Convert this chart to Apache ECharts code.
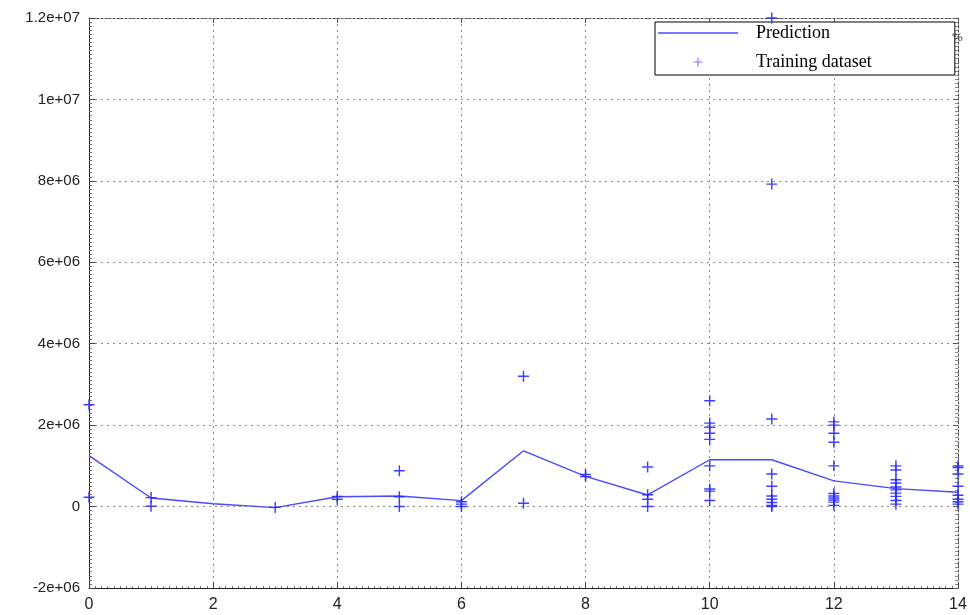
<!DOCTYPE html>
<html>
<head>
<meta charset="utf-8">
<title>Prediction vs training dataset</title>
<script src="https://cdn.jsdelivr.net/npm/echarts@6/dist/echarts.min.js"></script>
<style>
  html, body { margin: 0; padding: 0; background: #ffffff; }
  #chart { width: 970px; height: 615px; }
</style>
</head>
<body>
<div id="chart"></div>
<script>
// Model prediction, one value per integer x
const predictionX = [0, 1, 2, 3, 4, 5, 6, 7, 8, 9, 10, 11, 12, 13, 14];
const predictionY = [1.25e6, 2.1e5, 7e4, -2.5e4, 2.4e5, 2.6e5, 1.45e5, 1.37e6, 7.4e5, 2.85e5, 1.15e6, 1.15e6, 6.3e5, 4.4e5, 3.5e5];

// Training samples, grouped by x
const trainingX = [0, 1, 2, 3, 4, 5, 6, 7, 8, 9, 10, 11, 12, 13, 14];
const trainingY = [
  [2.5e6, 2.3e5],
  [2.2e5, 1e4],
  [],
  [-2e4],
  [2.5e5, 1.8e5],
  [8.8e5, 2.4e5, 0],
  [1.2e5, 6e4, 0],
  [3.2e6, 8e4],
  [7.9e5, 7.4e5],
  [9.7e5, 2.9e5, 1.8e5, 0],
  [2.6e6, 2.05e6, 1.95e6, 1.8e6, 1.65e6, 1.0e6, 4.3e5, 3.8e5, 1.5e5],
  [1.2e7, 7.92e6, 2.15e6, 8e5, 5e5, 2.6e5, 1.8e5, 1e5, 3e4, 0],
  [2.08e6, 2.0e6, 1.8e6, 1.58e6, 1.0e6, 3.2e5, 2.6e5, 2.1e5, 1.6e5, 1.1e5, 3e4],
  [1.0e6, 9.0e5, 6.6e5, 5.8e5, 4.8e5, 4.1e5, 3.3e5, 2.5e5, 1.5e5, 6e4],
  [1.0e6, 9.6e5, 8e5, 5e5, 2.8e5, 1.8e5, 1.2e5, 6e4]
];

// Axis tick labels
const xTickLabels = ['0', '2', '4', '6', '8', '10', '12', '14'];
const yTickLabels = ['-2e+06', '0', '2e+06', '4e+06', '6e+06', '8e+06', '1e+07', '1.2e+07'];

const predictionData = predictionX.map((x, i) => [x, predictionY[i]]);
const trainingData = [];
trainingX.forEach((x, i) => trainingY[i].forEach(y => trainingData.push([x, y])));

const plusPath = 'path://M0,4.35H10V5.65H0Z M4.35,0H5.65V10H4.35Z';
const lineIcon = 'path://M0,0H80V1.4H0Z';
const gridDots = { color: '#8a8a8a', width: 1, type: [2, 4] };

const chart = echarts.init(document.getElementById('chart'), null, { renderer: 'canvas' });

chart.setOption({
  backgroundColor: '#ffffff',
  animation: false,
  grid: { left: 89, right: 12, top: 18, bottom: 27, containLabel: false },
  legend: {
    orient: 'vertical',
    left: 655,
    top: 22,
    itemWidth: 80,
    itemHeight: 9,
    itemGap: 11,
    padding: [2, 83, 4, 3],
    backgroundColor: '#ffffff',
    borderColor: '#000000',
    borderWidth: 1,
    borderRadius: 0,
    textStyle: { fontFamily: 'Liberation Serif', fontSize: 18, color: '#000000', padding: [0, 0, 0, 13] },
    data: [
      { name: 'Prediction', icon: lineIcon, itemStyle: { color: '#4a4aff' } },
      { name: 'Training dataset', icon: plusPath, itemStyle: { color: '#7070ff' } }
    ]
  },
  xAxis: [
    {
      type: 'value',
      min: 0,
      max: 14,
      interval: 2,
      position: 'bottom',
      axisLine: { show: true, onZero: false, lineStyle: { color: '#222', width: 1 } },
      axisTick: { show: true, inside: true, length: 6, lineStyle: { color: '#444' } },
      minorTick: { show: true, splitNumber: 20, length: 2, lineStyle: { color: '#777' } },
      axisLabel: {
        margin: 9,
        fontFamily: 'Liberation Sans',
        fontSize: 16,
        color: '#222',
        formatter: (v, i) => xTickLabels[i] !== undefined ? xTickLabels[i] : String(v)
      },
      splitLine: { show: true, lineStyle: gridDots }
    },
    {
      type: 'value',
      min: 0,
      max: 14,
      interval: 2,
      position: 'top',
      axisLine: { show: true, onZero: false, lineStyle: { color: '#555', width: 1, type: [2, 2] } },
      axisTick: { show: true, inside: true, length: 5, lineStyle: { color: '#555' } },
      axisLabel: { show: false },
      splitLine: { show: false }
    }
  ],
  yAxis: [
    {
      type: 'value',
      min: -2e6,
      max: 1.2e7,
      interval: 2e6,
      position: 'left',
      axisLine: { show: true, onZero: false, lineStyle: { color: '#222', width: 1 } },
      axisTick: { show: true, inside: true, length: 6, lineStyle: { color: '#444' } },
      minorTick: { show: true, splitNumber: 20, length: 3, lineStyle: { color: '#777' } },
      axisLabel: {
        margin: 9,
        fontFamily: 'Liberation Sans',
        fontSize: 15,
        color: '#222',
        formatter: (v, i) => yTickLabels[i] !== undefined ? yTickLabels[i] : String(v)
      },
      splitLine: { show: true, lineStyle: gridDots }
    },
    {
      type: 'value',
      min: -2e6,
      max: 1.2e7,
      interval: 2e6,
      position: 'right',
      axisLine: { show: true, onZero: false, lineStyle: { color: '#555', width: 1, type: [2, 2] } },
      axisTick: { show: true, inside: true, length: 5, lineStyle: { color: '#555' } },
      minorTick: { show: true, splitNumber: 20, length: 3, lineStyle: { color: '#888' } },
      axisLabel: { show: false },
      splitLine: { show: false }
    }
  ],
  graphic: [
    {
      type: 'text',
      left: 952,
      top: 31,
      style: { text: '%', fontFamily: 'Liberation Serif', fontSize: 13, fill: '#444' },
      z: 100
    }
  ],
  series: [
    {
      name: 'Prediction',
      type: 'line',
      xAxisIndex: 0,
      yAxisIndex: 0,
      data: predictionData,
      symbol: 'none',
      lineStyle: { color: '#4a4aff', width: 1.4 },
      itemStyle: { color: '#4a4aff' },
      z: 3
    },
    {
      name: 'Training dataset',
      type: 'scatter',
      xAxisIndex: 0,
      yAxisIndex: 0,
      data: trainingData,
      symbol: plusPath,
      symbolSize: 11,
      itemStyle: { color: '#2a2aff', opacity: 0.9 },
      z: 4
    }
  ]
});
</script>
</body>
</html>
